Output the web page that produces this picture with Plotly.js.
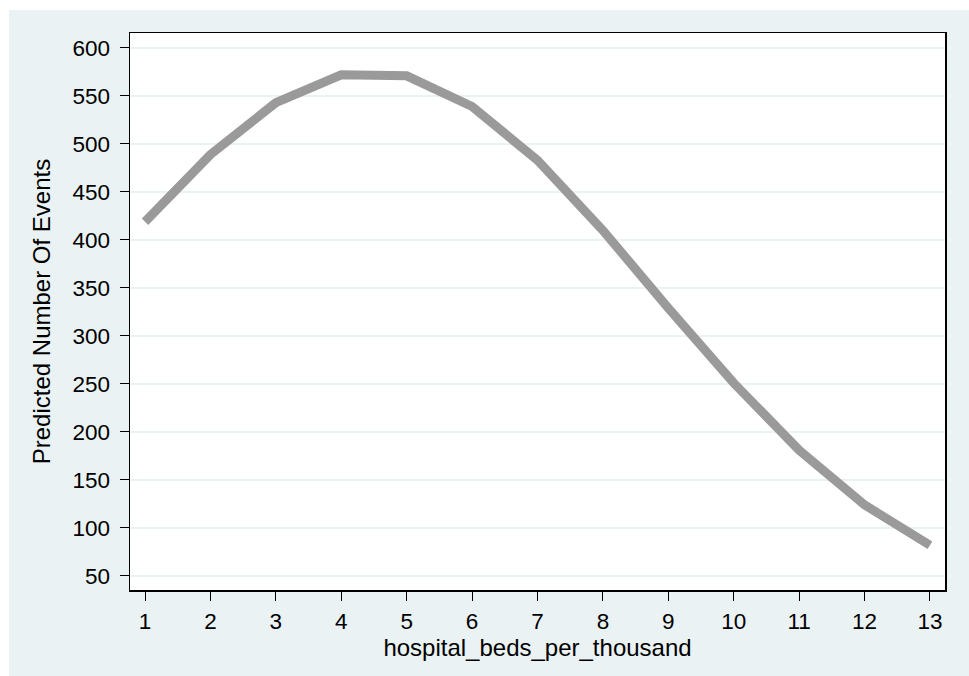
<!DOCTYPE html>
<html>
<head>
<meta charset="utf-8">
<script src="https://cdn.plot.ly/plotly-3.0.1.min.js"></script>
<style>
html, body { margin: 0; padding: 0; background: #ffffff; }
#chart { position: absolute; left: 9px; top: 10px; width: 960px; height: 666px; }
</style>
</head>
<body>
<div id="chart"></div>
<script>
const beds = [1, 2, 3, 4, 5, 6, 7, 8, 9, 10, 11, 12, 13];
const predicted = [419, 489, 543, 572, 571, 539, 483, 410, 329, 251, 181, 124, 82];
const yTicks = [50, 100, 150, 200, 250, 300, 350, 400, 450, 500, 550, 600];

const trace = {
  x: beds,
  y: predicted,
  type: 'scatter',
  mode: 'lines',
  line: { color: '#9a9a9a', width: 9 },
  hoverinfo: 'x+y'
};

const layout = {
  width: 960,
  height: 666,
  margin: { l: 121, r: 24, t: 23, b: 86 },
  paper_bgcolor: '#eaf2f3',
  plot_bgcolor: '#ffffff',
  font: { family: 'Liberation Sans, Arial, sans-serif', size: 22.5, color: '#000000' },
  showlegend: false,
  xaxis: {
    range: [0.77, 13.23],
    tickmode: 'array',
    tickvals: beds,
    ticktext: beds.map(String),
    ticks: 'outside',
    ticklen: 9,
    tickcolor: '#000000',
    tickwidth: 1,
    ticklabelstandoff: 1,
    showgrid: false,
    zeroline: false,
    showline: true,
    linecolor: '#000000',
    linewidth: 1.5,
    mirror: true,
    title: { text: 'hospital_beds_per_thousand', font: { size: 24 }, standoff: 6 }
  },
  yaxis: {
    range: [35.4, 615.6],
    tickmode: 'array',
    tickvals: yTicks,
    ticktext: yTicks.map(String),
    ticks: 'outside',
    ticklen: 9,
    tickcolor: '#000000',
    tickwidth: 1,
    ticklabelstandoff: 5,
    showgrid: true,
    gridcolor: '#eaf2f3',
    gridwidth: 1.5,
    zeroline: false,
    showline: true,
    linecolor: '#000000',
    linewidth: 1.5,
    mirror: true,
    title: { text: 'Predicted Number Of Events', font: { size: 24 }, standoff: 15 }
  }
};

Plotly.newPlot('chart', [trace], layout, { displayModeBar: false, staticPlot: true });
</script>
</body>
</html>
